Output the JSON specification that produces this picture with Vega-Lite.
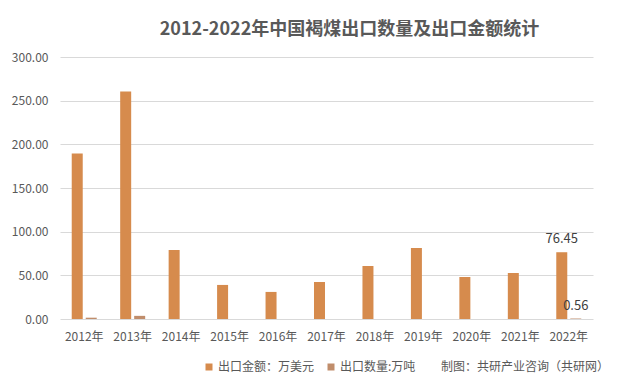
{
  "$schema": "https://vega.github.io/schema/vega-lite/v6.json",
  "width": 533,
  "height": 262,
  "autosize": "none",
  "padding": {"left": 60, "top": 57, "right": 24, "bottom": 69},
  "background": "white",
  "config": {
    "font": "Noto Sans CJK SC",
    "view": {"stroke": null}
  },
  "title": {
    "text": "2012-2022年中国褐煤出口数量及出口金额统计",
    "fontSize": 18,
    "fontWeight": "bold",
    "color": "#595959",
    "anchor": "middle",
    "dx": 23,
    "offset": 12
  },
  "data": {
    "values": [
      {"year": "2012年", "series": "出口金额：万美元", "value": 189.5},
      {"year": "2012年", "series": "出口数量:万吨", "value": 1.5},
      {"year": "2013年", "series": "出口金额：万美元", "value": 260.5},
      {"year": "2013年", "series": "出口数量:万吨", "value": 3.6},
      {"year": "2014年", "series": "出口金额：万美元", "value": 79.0},
      {"year": "2014年", "series": "出口数量:万吨", "value": 0.0},
      {"year": "2015年", "series": "出口金额：万美元", "value": 39.0},
      {"year": "2015年", "series": "出口数量:万吨", "value": 0.0},
      {"year": "2016年", "series": "出口金额：万美元", "value": 31.0},
      {"year": "2016年", "series": "出口数量:万吨", "value": 0.0},
      {"year": "2017年", "series": "出口金额：万美元", "value": 42.5},
      {"year": "2017年", "series": "出口数量:万吨", "value": 0.0},
      {"year": "2018年", "series": "出口金额：万美元", "value": 60.7},
      {"year": "2018年", "series": "出口数量:万吨", "value": 0.0},
      {"year": "2019年", "series": "出口金额：万美元", "value": 81.3},
      {"year": "2019年", "series": "出口数量:万吨", "value": 0.0},
      {"year": "2020年", "series": "出口金额：万美元", "value": 48.1},
      {"year": "2020年", "series": "出口数量:万吨", "value": 0.0},
      {"year": "2021年", "series": "出口金额：万美元", "value": 52.7},
      {"year": "2021年", "series": "出口数量:万吨", "value": 0.0},
      {"year": "2022年", "series": "出口金额：万美元", "value": 76.45, "label": "76.45"},
      {"year": "2022年", "series": "出口数量:万吨", "value": 0.56, "label": "0.56"}
    ]
  },
  "encoding": {
    "x": {
      "field": "year",
      "type": "nominal",
      "sort": null,
      "scale": {"paddingInner": 0.484, "paddingOuter": 0.242},
      "axis": {
        "title": null,
        "labelAngle": 0,
        "ticks": false,
        "domain": false,
        "grid": false,
        "labelPadding": 12,
        "labelFontSize": 12,
        "labelColor": "#595959"
      }
    },
    "xOffset": {
      "field": "series",
      "type": "nominal",
      "sort": ["出口金额：万美元", "出口数量:万吨"],
      "scale": {"paddingInner": 0.214, "paddingOuter": 0}
    },
    "y": {
      "field": "value",
      "type": "quantitative",
      "scale": {"domain": [0, 300], "nice": false},
      "axis": {
        "title": null,
        "values": [0, 50, 100, 150, 200, 250, 300],
        "format": ".2f",
        "ticks": false,
        "domain": false,
        "gridColor": "#D9D9D9",
        "labelPadding": 12,
        "labelFontSize": 12,
        "labelColor": "#595959"
      }
    }
  },
  "layer": [
    {
      "mark": {"type": "bar"},
      "encoding": {
        "color": {
          "field": "series",
          "type": "nominal",
          "scale": {
            "domain": ["出口金额：万美元", "出口数量:万吨", "制图：共研产业咨询（共研网）"],
            "range": ["#D68B4D", "#C08D6B", "rgba(255,255,255,0)"]
          },
          "legend": {
            "title": null,
            "orient": "none",
            "direction": "horizontal",
            "legendX": 143,
            "legendY": 304,
            "symbolType": "square",
            "symbolSize": 49,
            "symbolStrokeWidth": 0,
            "labelFontSize": 12,
            "labelColor": "#595959",
            "labelOffset": 3,
            "labelLimit": 300,
            "columnPadding": 10
          }
        }
      }
    },
    {
      "transform": [{"filter": "datum.label != null"}],
      "mark": {"type": "text", "baseline": "middle", "dy": -13, "fontSize": 13, "color": "#404040"},
      "encoding": {
        "text": {"field": "label"}
      }
    }
  ]
}
